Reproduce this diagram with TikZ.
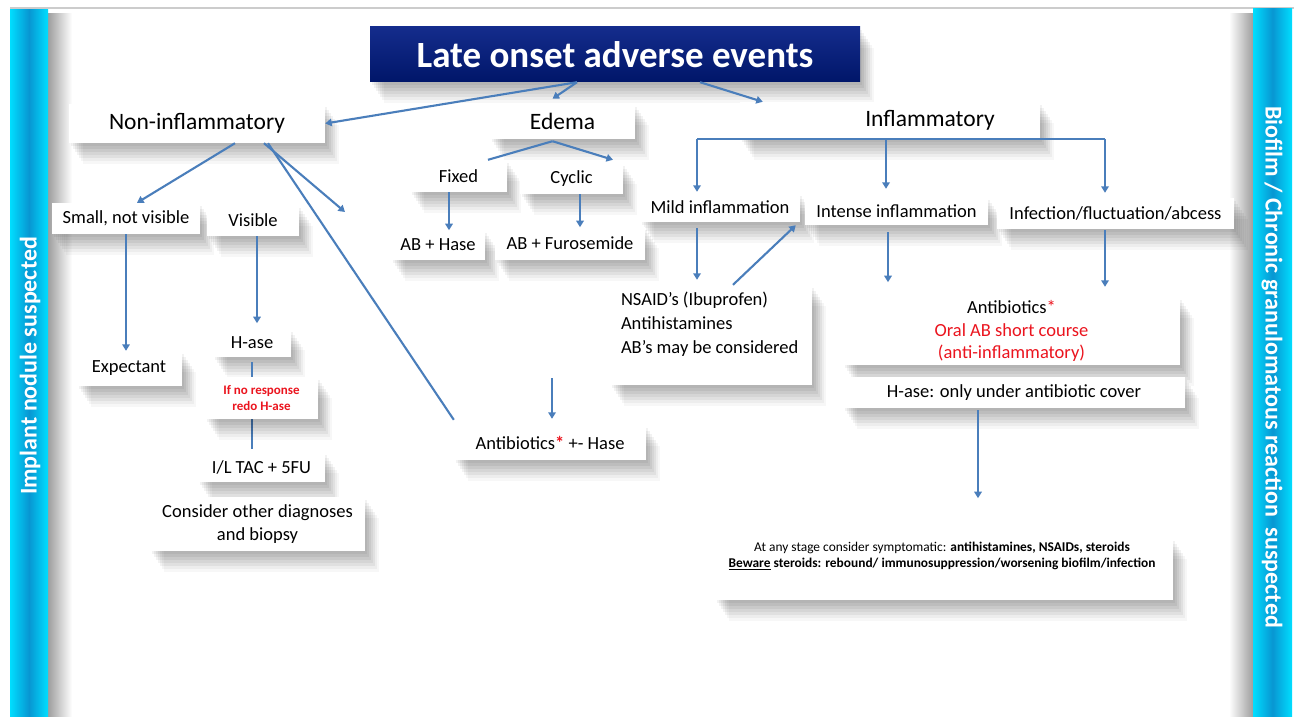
\documentclass[tikz,border=0pt]{standalone}
\usepackage{fontspec}
\setmainfont{Carlito}
\usetikzlibrary{arrows.meta,shadows,calc}
\definecolor{arrowblue}{RGB}{74,126,187}
\definecolor{navytop}{RGB}{20,44,140}
\definecolor{navybot}{RGB}{0,22,105}
\definecolor{barcyan}{RGB}{0,222,255}
\definecolor{barblue}{RGB}{8,150,210}
\definecolor{redtxt}{RGB}{235,20,30}
\begin{document}
\begin{tikzpicture}[x=1pt,y=-1pt,
  arr/.style={draw=arrowblue, line width=2.1pt, -{Triangle[width=7.5pt,length=6.5pt]}},
  conn/.style={draw=arrowblue, line width=2.1pt},
  boxshadow/.style={
    general shadow={fill=black,opacity=.05,shadow xshift=2pt,shadow yshift=-3pt},
    general shadow={fill=black,opacity=.05,shadow xshift=4pt,shadow yshift=-6pt},
    general shadow={fill=black,opacity=.05,shadow xshift=6pt,shadow yshift=-9pt},
    general shadow={fill=black,opacity=.05,shadow xshift=8pt,shadow yshift=-12pt},
    general shadow={fill=black,opacity=.05,shadow xshift=10pt,shadow yshift=-15pt},
    general shadow={fill=black,opacity=.04,shadow xshift=12pt,shadow yshift=-18pt},
    general shadow={fill=black,opacity=.03,shadow xshift=14pt,shadow yshift=-21pt}},
  wbox/.style={fill=white, inner sep=0pt, boxshadow, font=\fontsize{18.5}{22.5}\selectfont},
  bigtxt/.style={font=\fontsize{23.5}{28}\selectfont},
  titlebox/.style={top color=navytop, bottom color=navybot, inner sep=0pt, boxshadow,
    text=white, font=\bfseries\fontsize{37}{42}\selectfont},
  bartxt/.style={text=white, font=\bfseries\fontsize{24}{28}\selectfont, inner sep=0pt}
]
\useasboundingbox (0,0) rectangle (1294,717);
\fill[white] (0,0) rectangle (1294,717);
% top line
\draw[gray!40, line width=1.5pt] (10,8) -- (1294,8);
% side bar shadows
\shade[left color=black!38, right color=white] (48,14) rectangle (72,717);
\shade[left color=white, right color=black!38] (1229,14) rectangle (1253,717);
% side bars
\shade[left color=barcyan, right color=barcyan, middle color=barblue] (10,10) rectangle (48,717);
\shade[left color=barcyan, right color=barcyan, middle color=barblue] (1253,9) rectangle (1292,717);
\node[bartxt, rotate=90] (lefttxt) at (30,366) {Implant nodule suspected};
\node[bartxt, rotate=-90] (righttxt) at (1272,367) {Biofilm / Chronic granulomatous reaction\ \ suspected};

% boxes, top to bottom
\node[titlebox, minimum width=490pt, minimum height=55pt] (title) at (615,54.5) {Late onset adverse events};
\node[wbox, bigtxt, minimum width=256pt, minimum height=39pt] (noninf) at (197,123.5) {Non-inflammatory};
\node[wbox, bigtxt, minimum width=145pt, minimum height=35pt] (edema) at (562.5,121.5) {Edema};
\node[wbox, bigtxt, minimum width=300pt, minimum height=37pt] (infl) at (890,120.5) {\hspace*{80pt}Inflammatory};
\node[wbox, minimum width=97pt, minimum height=32pt] (fixed) at (458.5,176) {Fixed};
\node[wbox, minimum width=103pt, minimum height=31pt] (cyclic) at (571.5,178.5) {Cyclic};
\node[wbox, minimum width=160pt, minimum height=29pt] (mild) at (720,207.5) {Mild inflammation};
\node[wbox, minimum width=183pt, minimum height=28pt] (intense) at (896.5,211) {Intense inflammation};
\node[wbox, minimum width=237pt, minimum height=31pt] (infect) at (1115.5,213.5) {Infection/fluctuation/abcess};
\node[wbox, minimum width=148pt, minimum height=31pt] (small) at (126,218.5) {Small, not visible};
\node[wbox, minimum width=92pt, minimum height=31pt] (visible) at (253,220.5) {Visible};
\node[wbox, minimum width=94pt, minimum height=30pt] (abhase) at (438,245) {AB + Hase};
\node[wbox, minimum width=150pt, minimum height=33pt] (furo) at (570,243.5) {AB + Furosemide};
\node[wbox, minimum width=202pt, minimum height=100pt] (nsaidbox) at (711,335) {};
\node[anchor=west, align=left, inner sep=0pt, font=\fontsize{18.5}{24}\selectfont] (nsaidtxt) at ([xshift=11pt,yshift=11pt]nsaidbox.west)
  {NSAID’s (Ibuprofen)\\Antihistamines\\AB’s may be considered};
\node[wbox, align=center, minimum width=337pt, minimum height=68pt] (antib) at (1011.5,331)
  {Antibiotics\textcolor{redtxt}{*}\\\textcolor{redtxt}{Oral AB short course}\\\textcolor{redtxt}{(anti-inflammatory)}};
\node[wbox, minimum width=78pt, minimum height=28pt] (hase) at (252,343) {H-ase};
\node[wbox, minimum width=105pt, minimum height=35pt] (expect) at (129,368.5) {Expectant};
\node[wbox, minimum width=342pt, minimum height=31pt] (hcover) at (1014,392.5) {H-ase: only under antibiotic cover};
\node[wbox, minimum width=192pt, minimum height=35pt] (abh) at (550,442.5) {Antibiotics\textcolor{redtxt}{\textbf{*}} +- Hase};
\node[wbox, minimum width=127pt, minimum height=30pt] (iltac) at (261.5,467) {I/L TAC + 5FU};
\node[wbox, align=center, minimum width=215pt, minimum height=54pt] (consider) at (257.5,524) {Consider other diagnoses\\and biopsy};
\node[wbox, minimum width=458pt, minimum height=62pt] (bottombox) at (944,569) {};
\node[align=center, inner sep=0pt, font=\fontsize{13.4}{16.5}\selectfont] (bottomtxt) at ([xshift=-2pt,yshift=13pt]bottombox.center)
  {At any stage consider symptomatic: \textbf{antihistamines, NSAIDs, steroids}\\
   \textbf{\underline{Beware} steroids: rebound/ immunosuppression/worsening biofilm/infection}};

% free coordinates
\coordinate (dang) at (345,212);
\coordinate (abstart) at (552,378);
\coordinate (bl) at (697,139);
\coordinate (bm) at (886,139);
\coordinate (br) at (1105,139);

% connectors from title
\draw[arr] ([xshift=-38pt]title.south) -- (noninf.east);
\draw[arr] ([xshift=-38pt]title.south) -- ([xshift=-10pt,yshift=5pt]edema.north);
\draw[arr] ([xshift=85pt]title.south) -- ([xshift=23pt]infl.north west);
% non-inflammatory
\draw[arr] ([xshift=38pt]noninf.south) -- ([xshift=11pt]small.north);
\draw[arr] ([xshift=67pt]noninf.south) -- (dang);
\draw[conn] ([xshift=71pt]noninf.south) -- ([yshift=5pt]abh.north west);
\draw[arr] (small.south) -- (small.south |- expect.north);
\draw[arr] ([xshift=4pt]visible.south) -- ++(0,87);
\draw[conn] ($(hase.south)+(0,5)$) -- ($(hase.south |- iltac.north)+(0,-3)$);
% edema
\draw[conn] ([xshift=-10pt,yshift=-2pt]edema.south) -- ([xshift=29.5pt]fixed.north);
\draw[arr] ([xshift=-10pt,yshift=-2pt]edema.south) -- ([xshift=41.5pt,yshift=3pt]cyclic.north);
\draw[arr] ([xshift=-9.5pt]fixed.south) -- ++(0,38);
\draw[arr] ([xshift=8.5pt]cyclic.south) -- ++(0,33);
\draw[arr] (abstart) -- ($(abstart |- abh.north)+(0,-6)$);
% inflammatory
\draw[conn] (bl) -- (br);
\draw[arr] (bl) -- ($(bl |- mild.north)+(0,-1)$);
\draw[arr] (bm) -- ($(bm |- intense.north)+(0,-8)$);
\draw[arr] (br) -- ($(br |- infect.north)+(0,-5)$);
\draw[arr] ($(bl |- mild.south)+(0,6)$) -- ($(bl |- nsaidbox.north)+(0,-5)$);
\draw[arr] ([xshift=22pt]nsaidbox.north) -- ([xshift=-9pt]intense.south west);
\draw[arr] ($(intense.south)+(-8.5,7)$) -- ++(0,50);
\draw[arr] ($(br |- infect.south)+(0,1)$) -- ($(br |- antib.north)+(0,-10)$);
\draw[arr] ([xshift=-36pt,yshift=-2pt]hcover.south) -- ++(0,88);

% red note over the H-ase line
\node[wbox, align=center, text=redtxt, font=\bfseries\fontsize{13}{16}\selectfont, minimum width=113pt, minimum height=42pt] (noresp) at (261.5,398) {If no response\\redo H-ase};
\end{tikzpicture}
\end{document}
